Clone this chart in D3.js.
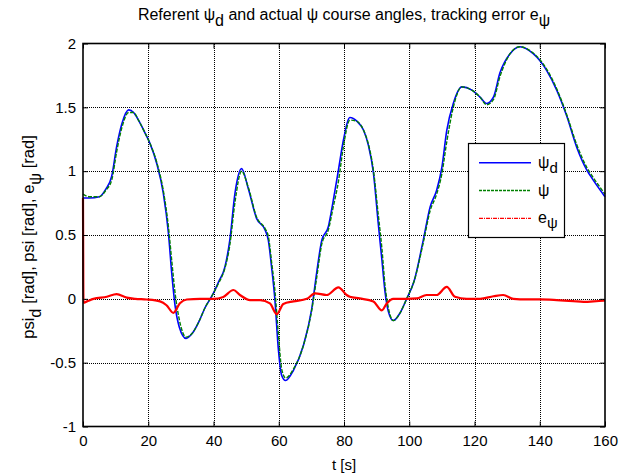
<!DOCTYPE html>
<html>
<head>
<meta charset="utf-8">
<script src="https://cdn.jsdelivr.net/npm/d3@7"></script>
<style>
  html, body { margin: 0; padding: 0; background: #fff; }
  svg { display: block; font-family: "Liberation Sans", Arial, sans-serif; }
</style>
</head>
<body>
<svg id="chart" width="631" height="475"></svg>
<script>
// Time axis ticks and value axis ticks
const xTicks = [0, 20, 40, 60, 80, 100, 120, 140, 160];
const yTicks = [-1, -0.5, 0, 0.5, 1, 1.5, 2];

// Sample times shared by the referent and actual course angles [s]
const tCourse = [0, 2, 5, 7, 8.8, 10.3, 11.9, 14, 15.5, 17, 19, 20.5, 22.6, 24.6, 26.2, 27.2, 28.2, 29.5,
  31.6, 33.5, 35.5, 37.4, 39.9, 41.5, 43.5, 45, 46.6, 48.6, 50.7, 53.2, 55.8, 56.8, 57.8, 58.8, 59.9,
  60.9, 62.1, 64.5, 67.5, 70.1, 71.6, 73.2, 75.2, 76.7, 78.3, 79.8, 81.8, 84, 86, 87.5, 89, 90.5, 91.6,
  92.6, 93.6, 95.1, 97.2, 99.2, 101.5, 104.3, 106.4, 108.4, 110, 111.5, 113.5, 116.1, 119.2, 121.7,
  123.7, 125.8, 127.8, 130.9, 133.9, 138, 142.1, 145.2, 148.3, 151.3, 154.4, 156.4, 160];

// Referent course angle psi_d [rad]
const psiRef = [0.79, 0.79, 0.80, 0.86, 0.96, 1.19, 1.37, 1.48, 1.46, 1.40, 1.30, 1.22, 1.06, 0.83, 0.51, 0.20, -0.05, -0.22,
  -0.31, -0.27, -0.18, -0.07, 0.04, 0.13, 0.25, 0.46, 0.83, 1.02, 0.86, 0.63, 0.54, 0.46, 0.25, 0.0, -0.40,
  -0.60, -0.64, -0.56, -0.37, -0.08, 0.20, 0.46, 0.565, 0.77, 1.01, 1.24, 1.42, 1.39, 1.32, 1.20, 0.99, 0.59, 0.31,
  0.05, -0.10, -0.17, -0.11, 0.0, 0.14, 0.46, 0.72, 0.85, 1.03, 1.32, 1.53, 1.66, 1.635, 1.58,
  1.53, 1.58, 1.77, 1.92, 1.975, 1.92, 1.79, 1.635, 1.43, 1.19, 1.01, 0.93, 0.80];

// Actual course angle psi [rad]
const psiAct = [0.82, 0.80, 0.80, 0.85, 0.93, 1.15, 1.34, 1.46, 1.46, 1.40, 1.30, 1.22, 1.07, 0.85, 0.56, 0.30, 0.05, -0.16,
  -0.30, -0.27, -0.18, -0.07, 0.04, 0.12, 0.24, 0.42, 0.76, 1.00, 0.87, 0.64, 0.55, 0.49, 0.29, 0.07, -0.28,
  -0.55, -0.62, -0.55, -0.37, -0.09, 0.16, 0.43, 0.54, 0.72, 0.92, 1.19, 1.40, 1.39, 1.32, 1.21, 1.01, 0.66, 0.40,
  0.10, -0.07, -0.17, -0.11, 0.0, 0.14, 0.44, 0.69, 0.82, 0.98, 1.23, 1.50, 1.66, 1.635, 1.58,
  1.52, 1.56, 1.74, 1.92, 1.975, 1.925, 1.80, 1.645, 1.44, 1.21, 1.03, 0.95, 0.82];

// Tracking error e_psi [rad]
const tError = [0, 0.15, 1.2, 3.2, 7.3, 10.3, 13.4, 16, 19.5, 23.6, 25.6, 27.7, 29.7, 31.8, 35.9, 40, 43, 46.1,
  48.1, 51.2, 54.3, 57.3, 59.4, 61.4, 64.5, 68.6, 71.1, 74.7, 78.3, 80.8, 81.8, 84.8, 89, 91.6, 93.1, 95.1,
  99.2, 102.3, 105.3, 108.4, 111.5, 114, 117.6, 121.7, 125.8, 128.8, 131.9, 136, 140, 145.2, 150.3, 153.4, 159.5, 160];
const ePsi = [0.79, -0.03, -0.02, 0.0, 0.016, 0.037, 0.01, 0.0, -0.005, -0.02, -0.05, -0.11, -0.035, -0.005, 0, 0, 0.015, 0.069,
  0.03, -0.01, -0.01, -0.036, -0.12, -0.04, -0.02, 0, 0.043, 0.03, 0.09, 0.03, 0.016, 0.003, -0.02, -0.09, -0.036, 0,
  0, 0.003, 0.03, 0.03, 0.093, 0.016, 0, 0, 0.02, 0.03, 0, -0.005, -0.005, -0.01, -0.018, -0.024, -0.015, -0.015];

const svg = d3.select("#chart");
const pLeft = 83, pRight = 605, pTop = 43.5, pBottom = 426.5;

const x = d3.scaleLinear().domain([0, 160]).range([pLeft, pRight]);
const y = d3.scaleLinear().domain([-1, 2]).range([pBottom, pTop]);

// Dotted grid
const grid = svg.append("g").attr("stroke", "#000").attr("stroke-width", 1)
  .attr("stroke-dasharray", "1,1").attr("shape-rendering", "crispEdges");
grid.selectAll("line.v").data(xTicks.slice(1, -1)).join("line").attr("class", "v")
  .attr("x1", d => Math.round(x(d)) + 0.5).attr("x2", d => Math.round(x(d)) + 0.5)
  .attr("y1", pTop).attr("y2", pBottom);
grid.selectAll("line.h").data(yTicks.slice(1, -1)).join("line").attr("class", "h")
  .attr("x1", pLeft).attr("x2", pRight)
  .attr("y1", d => Math.round(y(d)) + 0.5).attr("y2", d => Math.round(y(d)) + 0.5);

// Curves
const lineCourse = (vals) => d3.line()
  .x((d, i) => x(tCourse[i])).y(d => y(d)).curve(d3.curveMonotoneX)(vals);

svg.append("path").attr("d", lineCourse(psiRef))
  .attr("fill", "none").attr("stroke", "#0000ff").attr("stroke-width", 1.6);
svg.append("path").attr("d", lineCourse(psiAct))
  .attr("fill", "none").attr("stroke", "#008000").attr("stroke-width", 1.4)
  .attr("stroke-dasharray", "4,1.5");
svg.append("path")
  .attr("d", d3.line().x((d, i) => x(tError[i])).y(d => y(d)).curve(d3.curveMonotoneX)(ePsi))
  .attr("fill", "none").attr("stroke", "#ff0000").attr("stroke-width", 2.2);

// Axes (ticks pointing inward, box on all sides)
const fontSize = 15;
const axB = svg.append("g").attr("transform", `translate(0,${pBottom})`)
  .call(d3.axisBottom(x).tickValues(xTicks).tickSize(-5).tickPadding(9).tickFormat(d3.format("d")));
const axT = svg.append("g").attr("transform", `translate(0,${pTop})`)
  .call(d3.axisTop(x).tickValues(xTicks).tickSize(-5).tickFormat(""));
const axL = svg.append("g").attr("transform", `translate(${pLeft},0)`)
  .call(d3.axisLeft(y).tickValues(yTicks).tickSize(-5).tickPadding(7).tickFormat(d => String(d)));
const axR = svg.append("g").attr("transform", `translate(${pRight},0)`)
  .call(d3.axisRight(y).tickValues(yTicks).tickSize(-5).tickFormat(""));
[axB, axT, axL, axR].forEach(a => {
  a.select(".domain").remove();
  a.selectAll(".tick line").attr("stroke", "#000").attr("stroke-width", 1);
  a.selectAll("text").attr("font-size", fontSize)
    .attr("font-family", "'Liberation Sans', Arial, sans-serif").attr("fill", "#000");
});
svg.append("rect").attr("x", pLeft).attr("y", pTop).attr("width", pRight - pLeft).attr("height", pBottom - pTop)
  .attr("fill", "none").attr("stroke", "#000").attr("stroke-width", 1.6);

// Title
const title = svg.append("text").attr("x", (pLeft + pRight) / 2).attr("y", 20)
  .attr("text-anchor", "middle").attr("font-size", 16);
title.append("tspan").text("Referent ψ");
title.append("tspan").attr("baseline-shift", "-40%").text("d");
title.append("tspan").text(" and actual ψ course angles, tracking error e");
title.append("tspan").attr("baseline-shift", "-40%").text("ψ");

// Axis labels
svg.append("text").attr("x", (pLeft + pRight) / 2).attr("y", 470)
  .attr("text-anchor", "middle").attr("font-size", 15).text("t [s]");
const yl = svg.append("text")
  .attr("transform", `translate(34,${(pTop + pBottom) / 2 + 2}) rotate(-90)`)
  .attr("text-anchor", "middle").attr("font-size", 16.5);
yl.append("tspan").text("psi");
yl.append("tspan").attr("baseline-shift", "-40%").text("d");
yl.append("tspan").text(" [rad], psi [rad], e");
yl.append("tspan").attr("baseline-shift", "-40%").text("ψ");
yl.append("tspan").text(" [rad]");

// Legend
const legend = [
  { name: "ψ", sub: "d", color: "#0000ff", dash: null, width: 1.6 },
  { name: "ψ", sub: "", color: "#008000", dash: "3,1", width: 1.3 },
  { name: "e", sub: "ψ", color: "#ff0000", dash: "4,1,1,1", width: 1.2 }
];
const lg = svg.append("g");
lg.append("rect").attr("x", 468.5).attr("y", 143.5).attr("width", 96).attr("height", 94)
  .attr("fill", "#fff").attr("stroke", "#000").attr("stroke-width", 1.2);
const rowY = [162.7, 190.5, 218.3];
legend.forEach((d, i) => {
  lg.append("line").attr("x1", 479).attr("x2", 531).attr("y1", rowY[i]).attr("y2", rowY[i])
    .attr("stroke", d.color).attr("stroke-width", d.width).attr("stroke-dasharray", d.dash);
  const t = lg.append("text").attr("x", 538).attr("y", rowY[i] + 5).attr("font-size", 16);
  t.append("tspan").text(d.name);
  if (d.sub) t.append("tspan").attr("baseline-shift", "-35%").attr("font-size", 15).text(d.sub);
});
</script>
</body>
</html>
